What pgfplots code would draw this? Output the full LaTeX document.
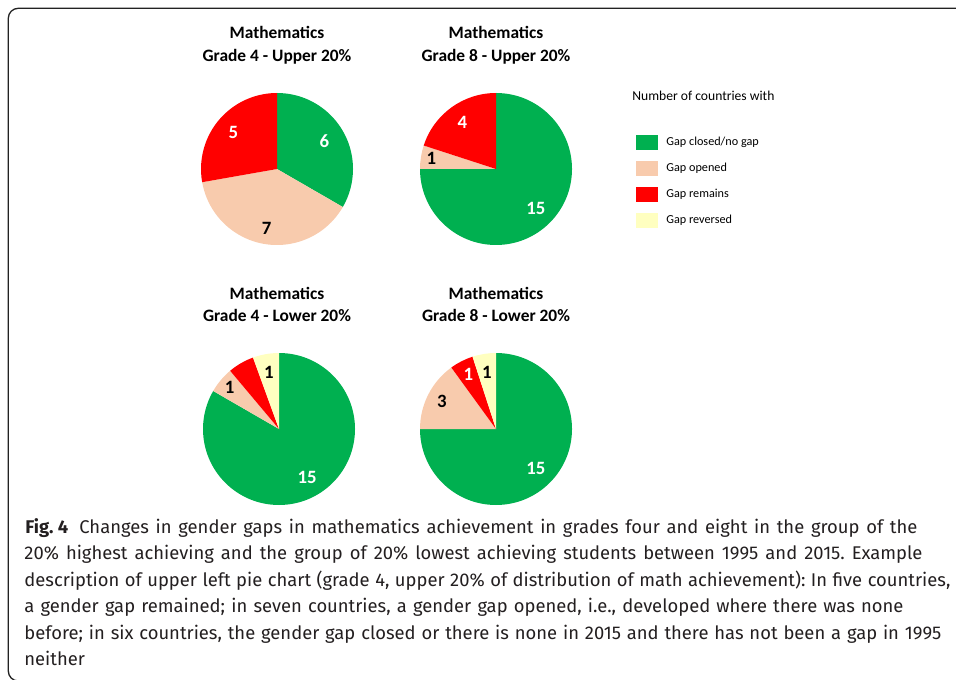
\documentclass[border=0pt]{standalone}
\usepackage{fontspec}
\usepackage{pgfplots}
\pgfplotsset{compat=1.18}
\setmainfont{Carlito}
\newfontfamily\capfont{Fira Sans}
\definecolor{gclosed}{HTML}{00B050}
\definecolor{gopened}{HTML}{F8CBAD}
\definecolor{gremains}{HTML}{FF0000}
\definecolor{greversed}{HTML}{FFFFC0}
\definecolor{framec}{HTML}{222222}
\definecolor{captc}{HTML}{231F20}
\frenchspacing

\pgfplotsset{pieaxis/.style={width=76pt, height=76pt, scale only axis,
  xmin=-1, xmax=1, ymin=-1, ymax=1, hide axis, clip=false, anchor=center}}

% #1: list value/colour/label colour/label radius/label
\newcommand\pie[1]{%
  \pgfplotsextra{%
    \gdef\pietotal{0}%
    \foreach \Sv/\Sc/\St/\Sr/\Sl in {#1}{\pgfmathsetmacro\tmp{\pietotal+\Sv}\xdef\pietotal{\tmp}}%
    \gdef\piecum{0}%
    \foreach \Sv/\Sc/\St/\Sr/\Sl in {#1}{%
      \pgfmathsetmacro\Sa{90-\piecum*360/\pietotal}%
      \pgfmathsetmacro\Sb{90-(\piecum+\Sv)*360/\pietotal}%
      \pgfmathsetmacro\Sm{(\Sa+\Sb)/2}%
      \fill[\Sc] (axis cs:0,0) -- (axis cs:{cos(\Sa)},{sin(\Sa)}) arc[start angle=\Sa, end angle=\Sb, radius=38pt] -- cycle;
      \node[font=\bfseries\fontsize{9.4}{11}\selectfont, text=\St, inner sep=0pt] at (axis cs:{\Sr*cos(\Sm)},{\Sr*sin(\Sm)}) {\Sl};
      \pgfmathsetmacro\tmp{\piecum+\Sv}\xdef\piecum{\tmp}%
    }%
  }%
}

\begin{document}
\begin{tikzpicture}
\useasboundingbox (0,0) rectangle (478pt,-339.5pt);
\begin{scope}[x=0.5pt,y=-0.5pt]
  \draw[framec, line width=0.65pt, rounded corners=5pt] (970,8.3) -- (8.3,8.3) -- (8.3,681) -- (30,681);
  \tikzset{ttl/.style={font=\bfseries\fontsize{8.7}{10}\selectfont, anchor=base, inner sep=0pt}}
  \node[ttl] at (277,39) {Mathematics};
  \node[ttl] at (277,61.5) {Grade 4 - Upper 20\%};
  \node[ttl] at (496,39) {Mathematics};
  \node[ttl] at (496,61.5) {Grade 8 - Upper 20\%};
  \node[ttl] at (277,299) {Mathematics};
  \node[ttl] at (277,321.5) {Grade 4 - Lower 20\%};
  \node[ttl] at (496,299) {Mathematics};
  \node[ttl] at (496,321.5) {Grade 8 - Lower 20\%};
  \node[font=\fontsize{6.8}{8}\selectfont, anchor=west, inner sep=0pt] at (632,96) {Number of countries with};
  \tikzset{captxt/.style={font=\capfont\fontsize{9.2}{12}\selectfont, text=captc, anchor=base west, inner sep=0pt}}
  \node[captxt] at (25,533) {\makebox[446pt][s]{\mbox{\textbf{Fig.\ 4}}\hspace{0.6em}Changes in gender gaps in mathematics achievement in grades four and eight in the group of the}};
  \node[captxt] at (24,559.5) {\makebox[449pt][s]{20\% highest achieving and the group of 20\% lowest achieving students between 1995 and 2015. Example}};
  \node[captxt] at (24,586) {\makebox[463pt][s]{description of upper left pie chart (grade 4, upper 20\% of distribution of math achievement): In five countries,}};
  \node[captxt] at (24,612.5) {\makebox[439.5pt][s]{a gender gap remained; in seven countries, a gender gap opened, i.e., developed where there was none}};
  \node[captxt] at (24,639) {\makebox[458.5pt][s]{before; in six countries, the gender gap closed or there is none in 2015 and there has not been a gap in 1995}};
  \node[captxt] at (24,665.5) {neither};
\end{scope}

\begin{axis}[pieaxis, at={({277*0.5pt},{-169*0.5pt})}]
  \pie{6/gclosed/white/0.72/6, 7/gopened/black/0.79/7, 5/gremains/white/0.75/5}
\end{axis}

\begin{axis}[pieaxis, at={({496*0.5pt},{-169*0.5pt})},
  legend style={at={(1.421,0.7237)}, anchor=north west, draw=none, fill=none,
    inner sep=0pt, outer sep=0pt, font=\fontsize{6.1}{7}\selectfont, row sep=5.5pt,
    nodes={inner sep=0pt},
    /tikz/every odd column/.style={column sep=4.2pt}},
  legend cell align=left,
  legend image code/.code={\fill[#1] (0pt,-3.75pt) rectangle (11pt,3.75pt);}]
  \pie{15/gclosed/white/0.74/15, 1/gopened/black/0.86/1, 4/gremains/white/0.75/4}
  \addlegendimage{fill=gclosed, draw=none}
  \addlegendentry{Gap closed/no gap}
  \addlegendimage{fill=gopened, draw=none}
  \addlegendentry{Gap opened}
  \addlegendimage{fill=gremains, draw=none}
  \addlegendentry{Gap remains}
  \addlegendimage{fill=greversed, draw=none}
  \addlegendentry{Gap reversed}
\end{axis}

\begin{axis}[pieaxis, at={({279*0.5pt},{-429*0.5pt})}]
  \pie{15/gclosed/white/0.74/15, 1/gopened/black/0.85/1, 1/gremains/white/0.8/{}, 1/greversed/black/0.76/1}
\end{axis}

\begin{axis}[pieaxis, at={({496*0.5pt},{-429*0.5pt})}]
  \pie{15/gclosed/white/0.74/15, 3/gopened/black/0.8/3, 1/gremains/white/0.8/1, 1/greversed/black/0.76/1}
\end{axis}
\end{tikzpicture}
\end{document}
